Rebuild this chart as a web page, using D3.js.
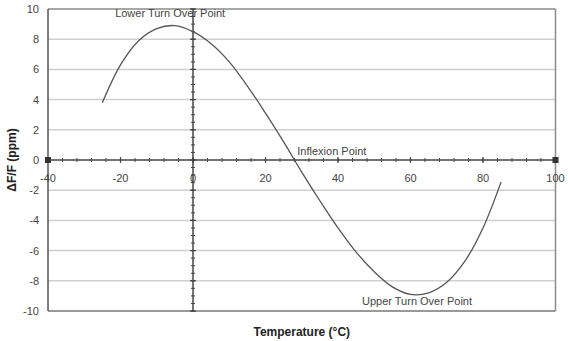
<!DOCTYPE html>
<html><head><meta charset="utf-8">
<script src="https://cdn.jsdelivr.net/npm/d3@7"></script>
<style>body{margin:0;background:#fff}</style>
</head><body>
<svg id="c" width="568" height="341"></svg>
<script>
const temps = [-25,-20,-15,-10,-5,0,5,10,15,20,25,30,35,40,45,50,55,60,65,70,75,80,85];
const deltaF = [3.8,6.3,7.9,8.7,8.9,8.5,7.7,6.5,4.9,3.1,1.2,-0.8,-2.7,-4.5,-6.1,-7.4,-8.4,-8.9,-8.8,-8.1,-6.7,-4.5,-1.45];
const xTicks = [-40,-20,0,20,40,60,80,100];
const yTicks = [-10,-8,-6,-4,-2,0,2,4,6,8,10];
const annotations = [
  {t:"Lower Turn Over Point", x:-6.3, y:9.45},
  {t:"Inflexion Point", x:38.3, y:0.35},
  {t:"Upper Turn Over Point", x:61.8, y:-9.6}
];

const svg = d3.select("#c");
const L=48, R=555.5, T=9, B=311;
const x = d3.scaleLinear().domain([-40,100]).range([L,R]);
const y = d3.scaleLinear().domain([-10,10]).range([B,T]);
const font = "Liberation Sans, Arial, sans-serif";

// gridlines
svg.append("g").selectAll("line").data(yTicks.filter(v=>v!==0 && v!==-10 && v!==10)).join("line")
  .attr("x1",L).attr("x2",R).attr("y1",d=>y(d)).attr("y2",d=>y(d))
  .attr("stroke","#d0d0d0").attr("stroke-width",1.5);

// border
svg.append("line").attr("x1",L).attr("x2",R).attr("y1",T).attr("y2",T).attr("stroke","#8a8a8a").attr("stroke-width",1.5);
svg.append("line").attr("x1",R).attr("x2",R).attr("y1",T).attr("y2",B).attr("stroke","#8a8a8a").attr("stroke-width",1.5);
svg.append("line").attr("x1",L).attr("x2",R).attr("y1",B).attr("y2",B).attr("stroke","#777").attr("stroke-width",1.5);
svg.append("line").attr("x1",L).attr("x2",L).attr("y1",T).attr("y2",B).attr("stroke","#555").attr("stroke-width",1.5);

// axes through zero
const gx = svg.append("g").attr("transform",`translate(0,${y(0)})`);
gx.append("line").attr("x1",L).attr("x2",R).attr("stroke","#444").attr("stroke-width",1.5);
gx.selectAll(".mt").data(d3.range(-40,101,4)).join("line")
  .attr("x1",d=>x(d)).attr("x2",d=>x(d)).attr("y1",-2).attr("y2",2).attr("stroke","#444").attr("stroke-width",1);
gx.selectAll(".Mt").data(xTicks).join("line")
  .attr("x1",d=>x(d)).attr("x2",d=>x(d)).attr("y1",-3).attr("y2",3).attr("stroke","#444").attr("stroke-width",1.2);
gx.selectAll("rect").data([-40,100]).join("rect")
  .attr("x",d=>x(d)-3).attr("y",-3).attr("width",6).attr("height",6).attr("fill","#333");
gx.selectAll("text").data(xTicks).join("text")
  .attr("x",d=>x(d)).attr("y",22).attr("text-anchor","middle")
  .attr("font-family",font).attr("font-size",11).attr("fill","#444").text(d=>d);

const gy = svg.append("g").attr("transform",`translate(${x(0)},0)`);
gy.append("line").attr("y1",T).attr("y2",B).attr("stroke","#444").attr("stroke-width",1.5);
gy.selectAll(".mt").data(d3.range(-10,10.01,0.5)).join("line")
  .attr("y1",d=>y(d)).attr("y2",d=>y(d)).attr("x1",-2).attr("x2",2).attr("stroke","#444").attr("stroke-width",1);
gy.selectAll(".Mt").data(yTicks).join("line")
  .attr("y1",d=>y(d)).attr("y2",d=>y(d)).attr("x1",-3).attr("x2",3).attr("stroke","#444").attr("stroke-width",1.2);

// y tick labels
svg.append("g").selectAll("text").data(yTicks).join("text")
  .attr("x",39).attr("y",d=>y(d)+4).attr("text-anchor","end")
  .attr("font-family",font).attr("font-size",11).attr("fill","#444").text(d=>d);

// curve
const line = d3.line().x((d,i)=>x(temps[i])).y(d=>y(d)).curve(d3.curveCatmullRom);
svg.append("path").datum(deltaF).attr("d",line).attr("fill","none")
  .attr("stroke","#555").attr("stroke-width",1.3);

// annotations
svg.append("g").selectAll("text").data(annotations).join("text")
  .attr("x",d=>x(d.x)).attr("y",d=>y(d.y)).attr("text-anchor","middle")
  .attr("font-family",font).attr("font-size",11).attr("fill","#444").text(d=>d.t);

// titles
svg.append("text").attr("x",(L+R)/2).attr("y",336).attr("text-anchor","middle")
  .attr("font-family",font).attr("font-size",12).attr("font-weight","bold").attr("fill","#222")
  .text("Temperature (°C)");
svg.append("text").attr("transform",`translate(16,${(T+B)/2}) rotate(-90)`).attr("text-anchor","middle")
  .attr("font-family",font).attr("font-size",12).attr("font-weight","bold").attr("fill","#222")
  .text("ΔF/F (ppm)");
</script>
</body></html>
